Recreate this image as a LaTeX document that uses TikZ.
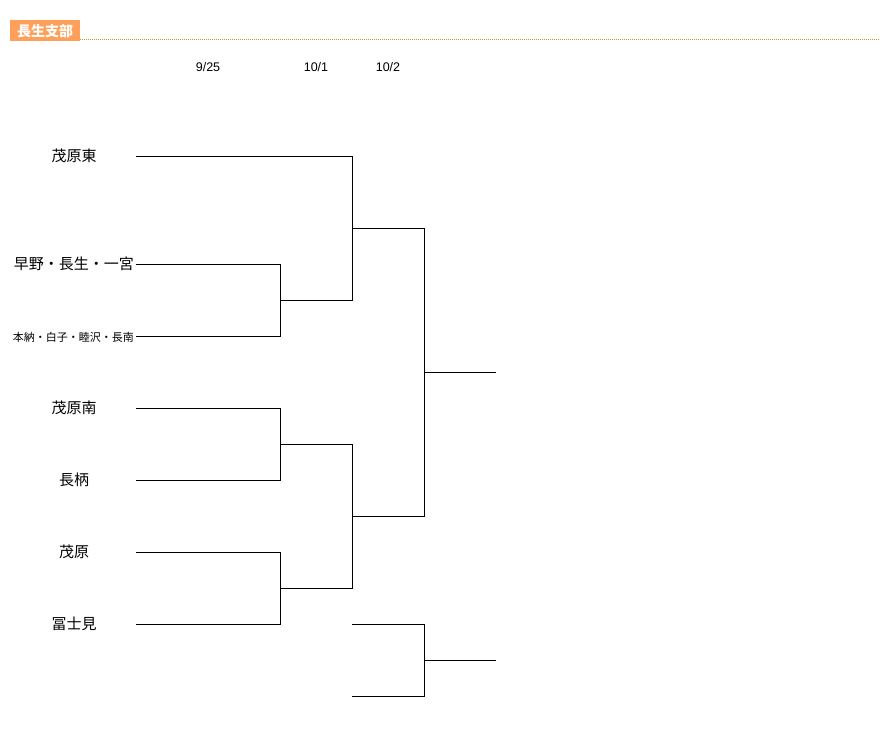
\documentclass[tikz,border=0pt]{standalone}
\usepackage{fontspec}
\newfontfamily\jp{Noto Sans CJK JP}
\newfontfamily\dt{Liberation Sans}
\definecolor{hdr}{RGB}{255,160,90}
\definecolor{dots}{RGB}{200,150,50}
\tikzset{
  team/.style={font=\jp\fontsize{15}{17}\selectfont, inner sep=0pt},
  small/.style={font=\jp\fontsize{11}{13}\selectfont, inner sep=0pt},
  datelbl/.style={font=\dt\fontsize{12.5}{14}\selectfont, inner sep=0pt},
  br/.style={line width=0.9pt, black},
}
\begin{document}
\begin{tikzpicture}[x=1pt,y=-1pt]
\useasboundingbox[fill=white] (0,0) rectangle (880,732);
% header
\node[fill=hdr, minimum width=70pt, minimum height=21pt, inner sep=0pt, anchor=north west,
      text=white, font=\jp\bfseries\fontsize{14}{15}\selectfont] (hd) at (10,20) {長生支部};
\coordinate (dl) at (80,39.5);
\coordinate (dr) at (880,39.5);
\draw[dots, line width=0.8pt, dash pattern=on 1pt off 1pt] (dl) -- (dr);
% dates
\node[datelbl] (d1) at (208,67) {9/25};
\node[datelbl] (d2) at (316,67) {10/1};
\node[datelbl] (d3) at (388,67) {10/2};
% teams
\node[team] (t1) at (74,156) {茂原東};
\node[team, anchor=east] (t2) at (134,264) {早野・長生・一宮};
\node[small, anchor=east] (t3) at (134,337) {本納・白子・睦沢・長南};
\node[team] (t4) at (74,408) {茂原南};
\node[team] (t5) at (74,480) {長柄};
\node[team] (t6) at (74,552) {茂原};
\node[team] (t7) at (74,624) {冨士見};
% line start points
\coordinate (s1) at (136,156);
\coordinate (s2) at (136,264);
\coordinate (s3) at (136,336);
\coordinate (s4) at (136,408);
\coordinate (s5) at (136,480);
\coordinate (s6) at (136,552);
\coordinate (s7) at (136,624);
% junctions
\coordinate (a1) at (280,300);
\coordinate (a2) at (280,444);
\coordinate (a3) at (280,588);
\coordinate (b1) at (352,228);
\coordinate (b2) at (352,516);
\coordinate (c1) at (424,372);
\coordinate (w1) at (496,372);
% first round
\draw[br] (s2) -| (a1);
\draw[br] (s3) -| (a1);
\draw[br] (s4) -| (a2);
\draw[br] (s5) -| (a2);
\draw[br] (s6) -| (a3);
\draw[br] (s7) -| (a3);
% second round
\draw[br] (s1) -| (b1);
\draw[br] (a1) -| (b1);
\draw[br] (a2) -| (b2);
\draw[br] (a3) -| (b2);
% third round
\draw[br] (b1) -| (c1);
\draw[br] (b2) -| (c1);
\draw[br] (c1) -- (w1);
% separate bracket
\coordinate (e1) at (352,624);
\coordinate (e2) at (352,696);
\coordinate (f1) at (424,660);
\coordinate (w2) at (496,660);
\draw[br] (e1) -| (f1);
\draw[br] (e2) -| (f1);
\draw[br] (f1) -- (w2);
\end{tikzpicture}
\end{document}
